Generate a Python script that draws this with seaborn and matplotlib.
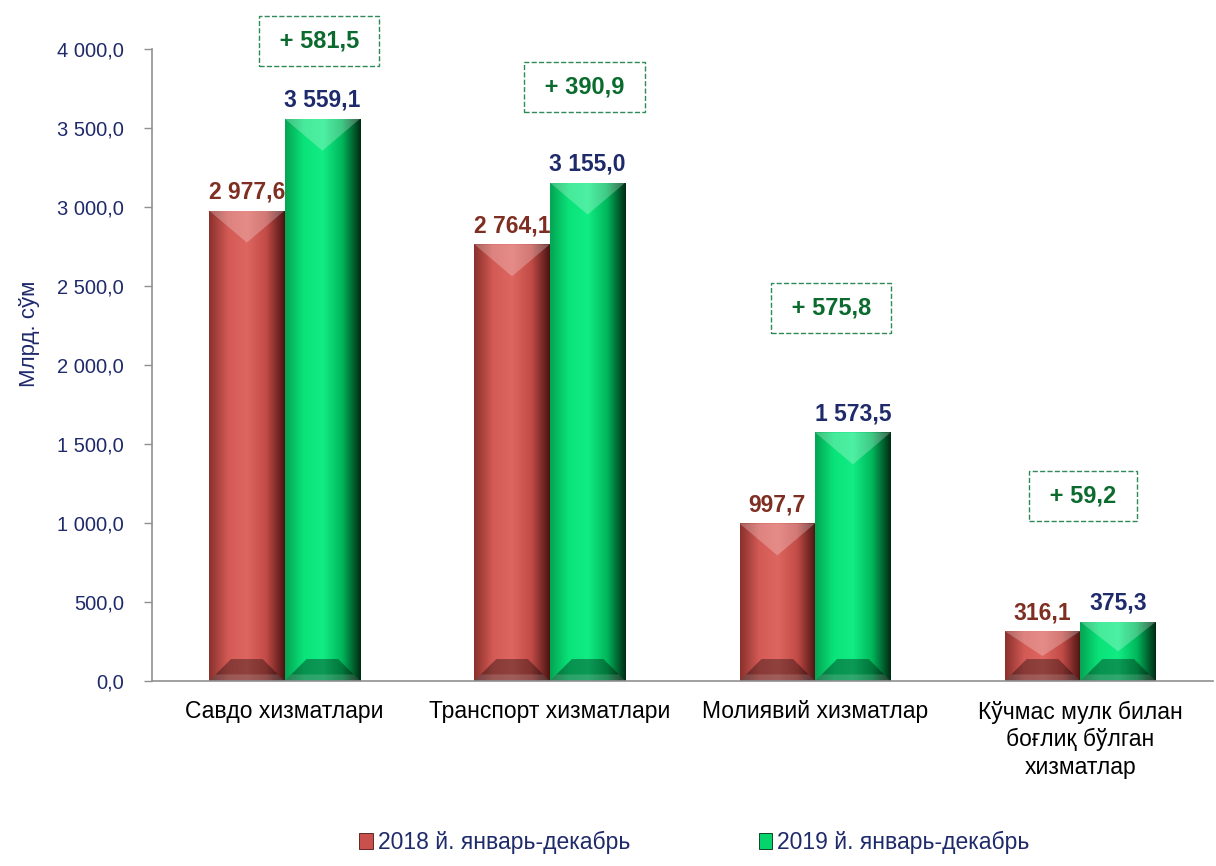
import numpy as np
import pandas as pd
import seaborn as sns
import matplotlib.pyplot as plt
from matplotlib.patches import Polygon, Patch
from matplotlib.colors import LinearSegmentedColormap

# Data
categories = ["Савдо хизматлари", "Транспорт хизматлари", "Молиявий хизматлар",
              "Кўчмас мулк билан\nбоғлиқ бўлган\nхизматлар"]
series_names = ["2018 й. январь-декабрь", "2019 й. январь-декабрь"]
values_2018 = [2977.6, 2764.1, 997.7, 316.1]
values_2019 = [3559.1, 3155.0, 1573.5, 375.3]
y_ticks = [0, 500, 1000, 1500, 2000, 2500, 3000, 3500, 4000]

# Positions of the difference boxes (x offset from group centre, y in data units)
box_dx = [0.13, 0.13, 0.06, 0.01]
box_y = [4050, 3760, 2360, 1170]

df = pd.DataFrame({
    "category": categories * 2,
    "year": [series_names[0]] * 4 + [series_names[1]] * 4,
    "value": values_2018 + values_2019,
})

sns.set_theme(style="white")
plt.rcParams["font.family"] = ["Liberation Sans", "DejaVu Sans"]

navy = "#1F2A6B"
colors = {series_names[0]: "#C9504C", series_names[1]: "#05D46C"}
shades = {
    series_names[0]: ["#8A302C", "#D35A55", "#DE6660", "#C44C48", "#4A1412"],
    series_names[1]: ["#04A553", "#0AE37A", "#12EC84", "#00B85C", "#002A12"],
}


def fmt(v):
    return f"{v:,.1f}".replace(",", " ").replace(".", ",")


fig = plt.figure(figsize=(12.16, 8.66), dpi=100)
ax = fig.add_axes([0.125, 0.2136, 0.8725, 0.7298])

sns.barplot(data=df, x="category", y="value", hue="year", palette=colors,
            width=0.57, saturation=1, ax=ax, legend=False)

ax.set_ylim(0, 4000)
ax.set_xlim(-0.5, 3.5)

# bevel / gradient effect on bars
py = 4000 / (0.7298 * 866)   # data units per pixel (y)
pxx = 4 / (0.8725 * 1216)    # data units per pixel (x)
bars = [p for p in ax.patches if p.get_height() > 0]
for i, p in enumerate(bars):
    name = series_names[0] if i < 4 else series_names[1]
    x, y0, w, h = p.get_x(), p.get_y(), p.get_width(), p.get_height()
    z = p.get_zorder()
    cmap = LinearSegmentedColormap.from_list("g", shades[name])
    grad = np.linspace(0, 1, 256).reshape(1, -1)
    im = ax.imshow(grad, extent=[x, x + w, y0, y0 + h], aspect="auto",
                   cmap=cmap, origin="lower", zorder=z + 0.1)
    im.set_clip_path(p)
    dt = min(32 * py, h / 2)
    db = min(22 * py, h / 2)
    bx = 22 * pxx
    ax.add_patch(Polygon([[x, y0 + h], [x + w, y0 + h], [x + w / 2, y0 + h - dt]],
                         closed=True, facecolor="white", alpha=0.25, lw=0, zorder=z + 0.2))
    ax.add_patch(Polygon([[x, y0], [x + w, y0], [x + w - bx, y0 + db], [x + bx, y0 + db]],
                         closed=True, facecolor="black", alpha=0.35, lw=0, zorder=z + 0.2))
    ax.add_patch(Polygon([[x, y0], [x + w, y0], [x + w - bx * 0.3, y0 + db * 0.3],
                          [x + bx * 0.3, y0 + db * 0.3]],
                         closed=True, facecolor="white", alpha=0.15, lw=0, zorder=z + 0.3))

# value labels
for i, p in enumerate(bars):
    col = "#7F2E22" if i < 4 else navy
    v = p.get_height()
    ax.annotate(fmt(v), (p.get_x() + p.get_width() / 2, v), xytext=(0, 5),
                textcoords="offset points", ha="center", va="bottom",
                fontsize=16.5, fontweight="bold", color=col)

# difference boxes
for i in range(4):
    diff = values_2019[i] - values_2018[i]
    ax.text(i + box_dx[i], box_y[i], " + " + f"{diff:.1f}".replace(".", ",") + " ",
            ha="center", va="center", fontsize=17, fontweight="bold",
            color="#0B6B2E",
            bbox=dict(boxstyle="square,pad=0.58", facecolor="white",
                      edgecolor="#2E8B57", linestyle="--", linewidth=1))

# axes styling
ax.set_yticks(y_ticks)
ax.set_yticklabels([fmt(v) for v in y_ticks], fontsize=14.5, color=navy)
ax.set_xticks(range(4))
ax.set_xticklabels(categories, fontsize=16.5, color="black", linespacing=1.25)
ax.set_xticks([0.5, 1.5, 2.5], minor=True)
ax.tick_params(axis="x", which="major", length=0, pad=14)
ax.tick_params(axis="x", which="minor", length=7, color="#909090", width=1, direction="out")
ax.tick_params(axis="y", length=6, color="#909090", width=1, direction="out", left=True, pad=14)
ax.set_xlabel("")
ax.set_ylabel("Млрд. сўм", fontsize=16, color=navy)
ax.yaxis.set_label_coords(-0.106, 0.55)
for s in ["top", "right"]:
    ax.spines[s].set_visible(False)
for s in ["left", "bottom"]:
    ax.spines[s].set_color("#909090")
    ax.spines[s].set_linewidth(1.2)

handles = [Patch(facecolor=colors[n], edgecolor=shades[n][4], linewidth=0.6) for n in series_names]
fig.legend(handles, series_names, loc="lower center", bbox_to_anchor=(0.571, -0.01),
           ncol=2, frameon=False, fontsize=16.5, columnspacing=5.6, handlelength=0.6,
           handleheight=0.7, handletextpad=0.2, labelcolor=navy)

fig.savefig("out.png", dpi=100)
